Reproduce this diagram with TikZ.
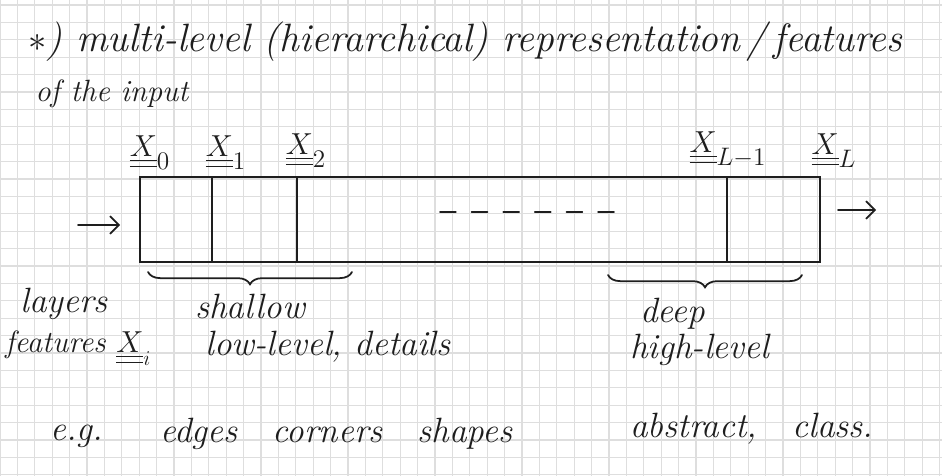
\documentclass[tikz,border=0pt]{standalone}
\usepackage{amsmath}
\usetikzlibrary{arrows.meta, decorations.pathreplacing, positioning}
\definecolor{ink}{HTML}{1E1E1E}
\definecolor{gridgray}{HTML}{DEDEDE}
\tikzset{
	handnote/.style={
			font=\fontsize{20}{24}\selectfont\itshape,
			text=ink,
			anchor=base west,
			inner sep=0pt
		},
	bignote/.style={
			handnote,
			font=\fontsize{22.5}{26}\selectfont\itshape
		},
	smallnote/.style={
			handnote,
			font=\fontsize{17.5}{21}\selectfont\itshape
		},
	layerlabel/.style={
			font=\fontsize{19}{22}\selectfont,
			text=ink,
			anchor=south,
			inner sep=1pt
		},
	inkline/.style={
			draw=ink,
			line width=1pt,
			line cap=round
		},
	flowarrow/.style={
			inkline,
			-{Straight Barb[length=5pt,width=10pt]}
		},
	groupbrace/.style={
			inkline,
			decorate,
			decoration={brace, mirror, amplitude=7pt}
		}
}
\newcommand{\vecX}{\underline{\underline{X}}}

\begin{document}
\begin{tikzpicture}[x=0.02cm, y=-0.02cm]
	\useasboundingbox (0,0) rectangle (942,476);
	\fill[white] (0,0) rectangle (942,476);
	\foreach \gx in {0,17.4,...,942} \draw[gridgray, line width=0.6pt] (\gx,0) -- (\gx,476);
	\foreach \gy in {5,22.4,...,476} \draw[gridgray, line width=0.6pt] (0,\gy) -- (942,\gy);

	% heading
	\node[bignote] (head) at (28,52) {$\ast$) multi-level (hierarchical) representation\,/\,features};
	\node[smallnote] (ofinput) at (35,102) {of the input};

	% layer boundaries
	\foreach \name/\gx in {0/140, 1/212, 2/297, m/727, n/820} {
			\coordinate (t\name) at (\gx,177);
			\coordinate (b\name) at (\gx,262);
		}
	\draw[inkline] (t0) -- (tn) -- (bn) -- (b0) -- cycle;
	\foreach \name in {1,2,m} \draw[inkline] (t\name) -- (b\name);

	\node[layerlabel] (x0) at (150,172) {$\vecX_0$};
	\node[layerlabel] (x1) at (226,172) {$\vecX_1$};
	\node[layerlabel] (x2) at (306,170) {$\vecX_2$};
	\node[layerlabel] (xm) at (728,170) {$\vecX_{L-1}$};
	\node[layerlabel] (xn) at (834,170) {$\vecX_L$};

	\coordinate (dl) at (440,212);
	\coordinate (dr) at (620,212);
	\draw[inkline, dash pattern=on 9pt off 9pt] (dl) -- (dr);

	\coordinate (inL) at (78,225);
	\coordinate (inR) at (120,225);
	\draw[flowarrow] (inL) -- (inR);
	\coordinate (outL) at (838,210);
	\coordinate (outR) at (876,210);
	\draw[flowarrow] (outL) -- (outR);

	% braces
	\coordinate (s1) at (148,272);
	\coordinate (s2) at (352,272);
	\draw[groupbrace] (s1) -- (s2);
	\coordinate (d1) at (608,275);
	\coordinate (d2) at (802,275);
	\draw[groupbrace] (d1) -- (d2);

	\node[handnote] (layers) at (20,312) {layers};
	\node[handnote] (shallow) at (195,318) {shallow};
	\node[handnote] (deep) at (640,322) {deep};
	\node[smallnote] (features) at (5,352) {features $\vecX_i$};
	\node[handnote] (lowlevel) at (205,355) {low-level, details};
	\node[handnote] (highlevel) at (630,358) {high-level};
	\node[handnote] (eg) at (50,440) {e.g.};
	\node[handnote] (examples) at (160,442) {edges\quad corners\quad shapes};
	\node[handnote] (abstract) at (630,437) {abstract,\quad class.};
\end{tikzpicture}
\end{document}
